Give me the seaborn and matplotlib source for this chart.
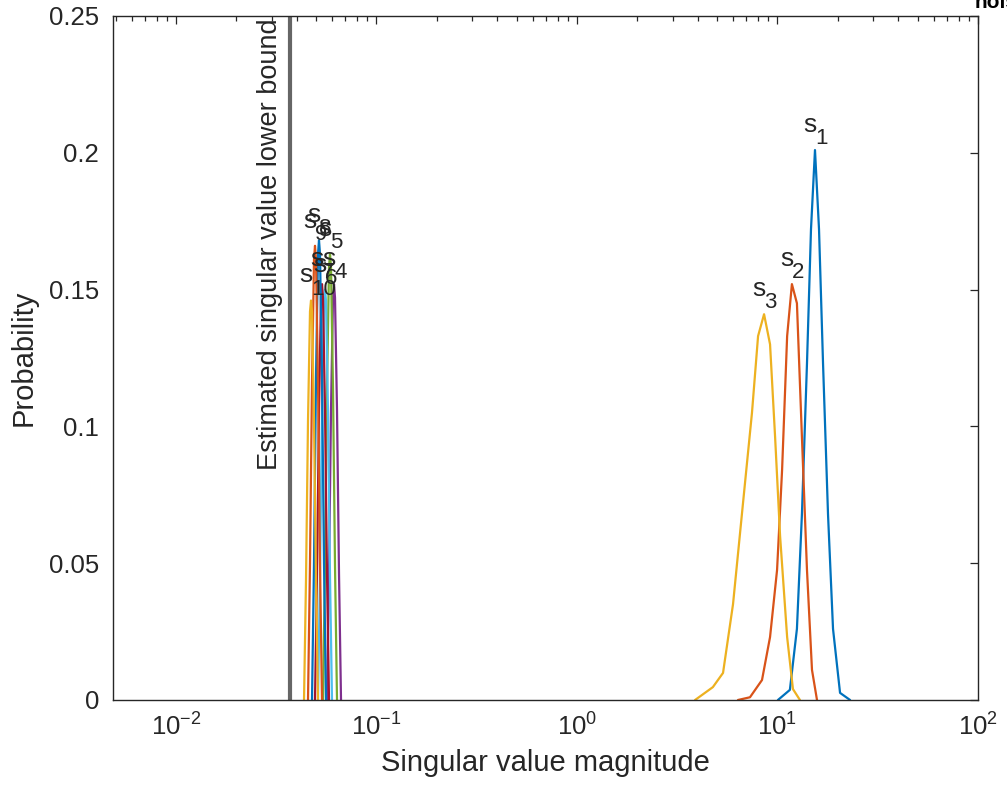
import matplotlib
matplotlib.use("Agg")
import matplotlib.pyplot as plt
import seaborn as sns
import pandas as pd
from matplotlib.ticker import LogLocator, FixedLocator, FixedFormatter

# singular value distributions (x = magnitude, y = probability)
s1_x = [10.05, 11.53, 12.50, 13.24, 14.03, 14.69, 15.38, 16.11, 16.87, 17.86, 18.92, 20.51, 23.01]
s1_y = [0, 0.0037, 0.026, 0.068, 0.123, 0.172, 0.201, 0.172, 0.123, 0.068, 0.026, 0.0026, 0]

s2_x = [6.35, 7.29, 8.37, 9.18, 9.95, 10.54, 11.17, 11.80, 12.50, 13.24, 14.03, 14.86, 15.74]
s2_y = [0, 0.001, 0.0073, 0.023, 0.0475, 0.084, 0.133, 0.152, 0.145, 0.096, 0.0475, 0.011, 0]

s3_x = [3.88, 4.76, 5.35, 6.00, 6.73, 7.46, 8.00, 8.57, 9.18, 9.73, 10.30, 11.17, 11.94, 12.94]
s3_y = [0, 0.0047, 0.0099, 0.035, 0.072, 0.105, 0.133, 0.141, 0.130, 0.096, 0.060, 0.023, 0.004, 0]

s4_x = [0.05664, 0.05796, 0.05931, 0.06068, 0.06139, 0.06210, 0.06354, 0.06502, 0.06653]
s4_y = [0, 0.046, 0.106, 0.147, 0.152, 0.147, 0.106, 0.046, 0]

s5_x = [0.05410, 0.05536, 0.05664, 0.05796, 0.05863, 0.05931, 0.06068, 0.06210, 0.06354]
s5_y = [0, 0.049, 0.114, 0.158, 0.163, 0.158, 0.114, 0.049, 0]

s6_x = [0.05108, 0.05227, 0.05348, 0.05473, 0.05536, 0.05600, 0.05730, 0.05863, 0.05999]
s6_y = [0, 0.045, 0.105, 0.146, 0.150, 0.146, 0.105, 0.045, 0]

s7_x = [0.04935, 0.05050, 0.05167, 0.05287, 0.05348, 0.05410, 0.05536, 0.05664, 0.05796]
s7_y = [0, 0.046, 0.106, 0.147, 0.152, 0.147, 0.106, 0.046, 0]

s8_x = [0.04768, 0.04879, 0.04992, 0.05108, 0.05167, 0.05227, 0.05348, 0.05473, 0.05600]
s8_y = [0, 0.050, 0.118, 0.163, 0.168, 0.163, 0.118, 0.050, 0]

s9_x = [0.04554, 0.04660, 0.04768, 0.04879, 0.04935, 0.04992, 0.05108, 0.05227, 0.05348]
s9_y = [0, 0.050, 0.116, 0.161, 0.166, 0.161, 0.116, 0.050, 0]

s10_x = [0.04350, 0.04451, 0.04554, 0.04660, 0.04714, 0.04768, 0.04879, 0.04992, 0.05108]
s10_y = [0, 0.044, 0.102, 0.142, 0.146, 0.142, 0.102, 0.044, 0]

lower_bound = 0.0371

y_ticks = [0, 0.05, 0.1, 0.15, 0.2, 0.25]
y_tick_labels = ["0", "0.05", "0.1", "0.15", "0.2", "0.25"]
x_ticks = [0.01, 0.1, 1, 10, 100]
x_tick_labels = [r"10$^{\mathrm{-2}}$", r"10$^{\mathrm{-1}}$", r"10$^{0}$",
                 r"10$^{1}$", r"10$^{2}$"]

# MATLAB default line colour order
matlab_colors = [
    (0.000, 0.447, 0.741),
    (0.850, 0.325, 0.098),
    (0.929, 0.694, 0.125),
    (0.494, 0.184, 0.556),
    (0.466, 0.674, 0.188),
    (0.301, 0.745, 0.933),
    (0.635, 0.078, 0.184),
]

series = [
    (s1_x, s1_y), (s2_x, s2_y), (s3_x, s3_y), (s4_x, s4_y), (s5_x, s5_y),
    (s6_x, s6_y), (s7_x, s7_y), (s8_x, s8_y), (s9_x, s9_y), (s10_x, s10_y),
]

frames = []
for i, (xs, ys) in enumerate(series):
    frames.append(pd.DataFrame({"x": xs, "y": ys, "sv": i + 1}))
df = pd.concat(frames, ignore_index=True)

sns.set_style("white")
plt.rcParams["font.family"] = ["Liberation Sans", "DejaVu Sans"]
plt.rcParams["mathtext.fontset"] = "custom"
plt.rcParams["mathtext.rm"] = "Liberation Sans"
plt.rcParams["mathtext.it"] = "Liberation Sans"
plt.rcParams["mathtext.default"] = "regular"
plt.rcParams["axes.unicode_minus"] = False

fig, ax = plt.subplots(figsize=(10.07, 7.95), dpi=100)
fig.subplots_adjust(left=0.1122, right=0.9712, bottom=0.1195, top=0.9799)

dark = "#262626"

for i in range(len(series)):
    sub = df[df["sv"] == i + 1]
    color = matlab_colors[i % len(matlab_colors)]
    sns.lineplot(data=sub, x="x", y="y", color=color, lw=1.6, sort=False,
                 estimator=None, ax=ax, legend=False)
    k = sub["y"].idxmax()
    peak = (sub.loc[k, "x"], sub.loc[k, "y"])
    # MATLAB-style "s_n" label: letter, then a lowered subscript
    ax.annotate("s", xy=peak, xytext=(-3.5, 13), textcoords="offset points",
                ha="center", va="baseline", fontsize=19, color=dark)
    ax.annotate(str(i + 1), xy=peak, xytext=(0, 4.3), textcoords="offset points",
                ha="left", va="baseline", fontsize=16, color=dark)

ax.axvline(lower_bound, color=(0.4, 0.4, 0.4), lw=3)
ax.annotate("Estimated singular value lower bound", xy=(lower_bound, 1),
            xycoords=("data", "axes fraction"), xytext=(-5, -2),
            textcoords="offset points", rotation=90, ha="right", va="top",
            fontsize=19.5, color=dark)

ax.set_xscale("log")
ax.set_xlim(0.00485, 100)
ax.set_ylim(0, 0.25)
ax.yaxis.set_major_locator(FixedLocator(y_ticks))
ax.yaxis.set_major_formatter(FixedFormatter(y_tick_labels))
ax.xaxis.set_major_locator(FixedLocator(x_ticks))
ax.xaxis.set_major_formatter(FixedFormatter(x_tick_labels))
ax.xaxis.set_minor_locator(LogLocator(base=10, subs=range(2, 10), numticks=20))

ax.tick_params(which="both", direction="in", top=True, right=True,
               colors=dark, labelsize=18.5)
ax.tick_params(which="major", length=6, width=0.9)
ax.tick_params(which="minor", length=3.5, width=0.9)
ax.tick_params(axis="x", which="major", pad=10)
ax.tick_params(axis="y", which="major", pad=10)
for sp in ax.spines.values():
    sp.set_color(dark)
    sp.set_linewidth(1)

ax.set_xlabel("Singular value magnitude", fontsize=21, color=dark, labelpad=6)
ax.set_ylabel("Probability", fontsize=21, color=dark, labelpad=8)

# clipped text at the very top right of the canvas
fig.text(975 / 1007, 1 - 8 / 795, "noise", fontsize=15, fontweight="bold",
         color="black", va="baseline", ha="left")

fig.savefig("out.png", dpi=100)
